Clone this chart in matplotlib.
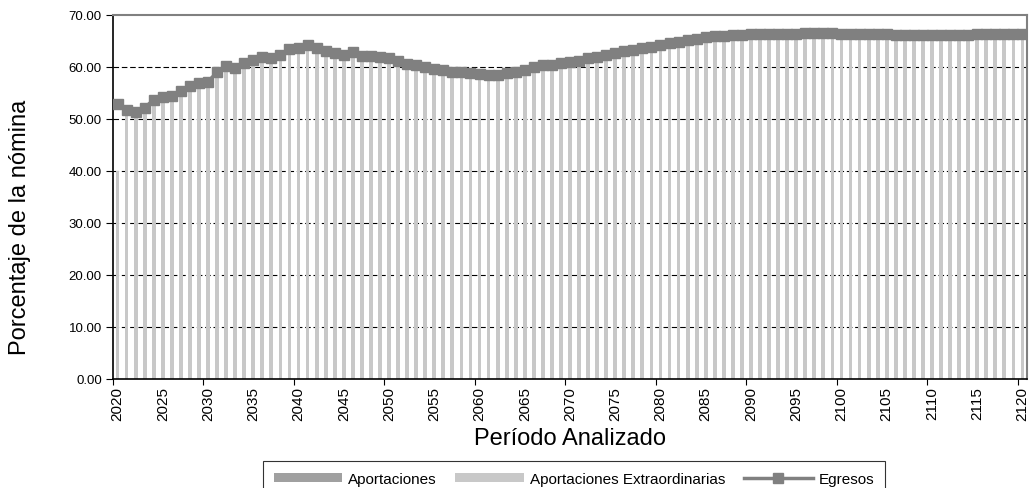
import numpy as np
import matplotlib.pyplot as plt
from matplotlib.ticker import FormatStrFormatter

plt.rcParams['font.family'] = ['Liberation Sans', 'DejaVu Sans']

years = list(range(2020, 2121))

egresos = [
    52.9, 51.8, 51.3, 52.2, 53.7, 54.3, 54.5, 55.3, 56.4, 56.9,   # 2020-2029
    57.2, 59.0, 60.1, 59.8, 60.8, 61.4, 62.0, 61.7, 62.4, 63.5,   # 2030-2039
    63.6, 64.3, 63.6, 63.1, 62.7, 62.3, 62.8, 62.2, 62.2, 61.9,   # 2040-2049
    61.7, 61.2, 60.6, 60.3, 60.0, 59.6, 59.4, 59.1, 59.0, 58.8,   # 2050-2059
    58.7, 58.5, 58.5, 58.8, 59.0, 59.4, 60.0, 60.3, 60.4, 60.7,   # 2060-2069
    61.0, 61.2, 61.7, 62.0, 62.3, 62.6, 63.0, 63.3, 63.6, 63.9,   # 2070-2079
    64.3, 64.6, 64.8, 65.1, 65.4, 65.7, 65.9, 66.0, 66.2, 66.2,   # 2080-2089
    66.3, 66.3, 66.4, 66.4, 66.4, 66.4, 66.5, 66.5, 66.5, 66.5,   # 2090-2099
    66.4, 66.4, 66.4, 66.4, 66.3, 66.3, 66.2, 66.2, 66.2, 66.2,   # 2100-2109
    66.2, 66.2, 66.2, 66.2, 66.2, 66.3, 66.3, 66.3, 66.3, 66.3,   # 2110-2119
    66.3,                                                         # 2120
]

# dark series is not visible in the picture
aportaciones = [0.0] * len(years)
aportaciones_extra = [40.0] + egresos[1:]

x = np.arange(len(years))

fig = plt.figure(figsize=(10.32, 4.89), dpi=100)
ax = fig.add_axes([113/1032, 1-380/489, (1027-113)/1032, (380-16)/489])

b1 = ax.bar(x, aportaciones, width=0.42, color='#a0a0a0', label='Aportaciones', zorder=2)
b2 = ax.bar(x, aportaciones_extra, width=0.42, bottom=aportaciones, color='#c8c8c8',
            label='Aportaciones Extraordinarias', zorder=2)
l1, = ax.plot(x, egresos, color='#808080', lw=2.5, marker='s', markersize=6.5,
              label='Egresos', zorder=3)

ax.set_xlim(-0.5, len(years) - 0.5)
ax.set_ylim(0, 70)
ax.set_yticks(np.arange(0, 71, 10))
ax.yaxis.set_major_formatter(FormatStrFormatter('%.2f'))
ax.tick_params(axis='y', labelsize=9.5, length=5, width=0.8, color='black', pad=3)
for yv in range(10, 70, 10):
    ax.axhline(yv, color='black', lw=0.8, ls=(0, (5, 2.5)), zorder=1)

lab_pos = x[::5]
ax.set_xticks(lab_pos)
ax.set_xticklabels([str(years[i]) for i in lab_pos], rotation=90, fontsize=11)
ax.tick_params(axis='x', which='major', length=0, pad=5)
ax.set_xticks(np.arange(-0.5, len(years), 10), minor=True)
ax.tick_params(axis='x', which='minor', length=4, width=0.8, color='black')

for s in ['left', 'bottom']:
    ax.spines[s].set_color('black')
    ax.spines[s].set_linewidth(1.2)
for s in ['top', 'right']:
    ax.spines[s].set_color('#808080')
    ax.spines[s].set_linewidth(1.5)

ax.set_ylabel('Porcentaje de la nómina', fontsize=17)
ax.yaxis.set_label_coords(-0.09, 0.42)
ax.set_xlabel('Período Analizado', fontsize=17, labelpad=5)

leg = fig.legend([b1, b2, l1], ['Aportaciones', 'Aportaciones Extraordinarias', 'Egresos'],
                 loc='upper center', bbox_to_anchor=(574/1032, 1-462/489), ncol=3,
                 fontsize=11, frameon=True, fancybox=False, edgecolor='black',
                 handlelength=4.5, handleheight=0.5, columnspacing=1.2,
                 handletextpad=0.4, borderpad=0.7, borderaxespad=0)
leg.get_frame().set_linewidth(0.8)

fig.savefig('out.png', dpi=100)
